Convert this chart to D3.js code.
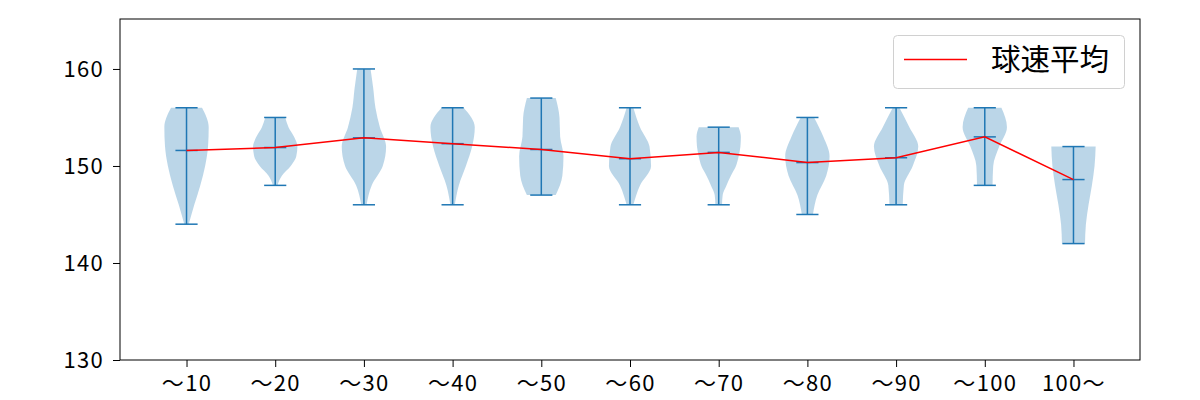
<!DOCTYPE html>
<html><head><meta charset="utf-8">
<script src="https://cdn.jsdelivr.net/npm/d3@7"></script>
<style>body{margin:0;background:#fff;}svg{display:block;}</style>
</head><body>
<svg id="c" width="1200" height="400"></svg>
<script>
const categories = ["～10","～20","～30","～40","～50","～60","～70","～80","～90","～100","100～"];
const maxVals  = [156,155,160,156,157,156,154,155,156,156,152];
const minVals  = [144,148,146,146,147,146,146,145,146,148,142];
const meanVals = [151.6,151.9,152.9,152.3,151.7,150.75,151.4,150.35,150.85,153.0,148.6];
// relative violin half-widths, sampled evenly from min to max (bottom -> top)
const densities = [
  [0.1,0.35,0.62,0.84,0.97,1.0,0.7],
  [0.1,0.3,0.7,0.95,1.0,0.85,0.6,0.45],
  [0.12,0.35,0.85,1.0,0.72,0.52,0.42,0.3],
  [0.1,0.28,0.6,0.88,1.0,0.5],
  [0.65,0.95,1.0,0.85,0.82,0.65],
  [0.15,0.45,0.95,0.88,0.45,0.15],
  [0.15,0.18,0.35,0.55,0.78,0.9,0.98,1.0,0.9],
  [0.25,0.45,0.85,1.0,0.72,0.3],
  [0.3,0.35,0.75,1.0,0.6,0.15],
  [0.35,0.38,0.65,1.0,0.75],
  [0.52,0.56,0.68,0.83,0.95,1.0]
];
const yTicks = [130,140,150,160];
const legendLabel = "球速平均";

const svg = d3.select("#c");
const L=120,R=1140,T=19,B=360;
const x = d3.scaleLinear().domain([0.25, categories.length+0.75]).range([L,R]);
const y = d3.scaleLinear().domain([130,165.15]).range([B,T]);
const unit = x(2)-x(1);
const halfW = 0.25*unit;
const capW = 0.125*unit;
const blue = "#1f77b4";
const font = "'Noto Sans CJK JP', 'DejaVu Sans', sans-serif";

categories.forEach((c,i)=>{
  const cx = x(i+1);
  const d = densities[i];
  const n = d.length;
  const pts = d.map((w,j)=>({v: minVals[i] + (maxVals[i]-minVals[i])*j/(n-1), w}));
  const area = d3.area()
    .y(p=>y(p.v))
    .x0(p=>cx - p.w*halfW)
    .x1(p=>cx + p.w*halfW)
    .curve(d3.curveMonotoneY);
  svg.append("path").attr("d", area(pts))
    .attr("fill", blue).attr("fill-opacity", 0.3).attr("stroke","none");
});

// vertical lines and caps
categories.forEach((c,i)=>{
  const cx = x(i+1);
  const g = svg.append("g").attr("stroke", blue).attr("stroke-width", 1.5);
  g.append("line").attr("x1",cx).attr("x2",cx).attr("y1",y(minVals[i])).attr("y2",y(maxVals[i]));
  [minVals[i],maxVals[i],meanVals[i]].forEach(v=>{
    g.append("line").attr("x1",cx-capW).attr("x2",cx+capW).attr("y1",y(v)).attr("y2",y(v));
  });
});

// mean line
svg.append("path")
  .datum(meanVals)
  .attr("d", d3.line().x((v,i)=>x(i+1)).y(v=>y(v)))
  .attr("fill","none").attr("stroke","red").attr("stroke-width",1.5);

// axes
const yAxis = d3.axisLeft(y).tickValues(yTicks).tickSize(7).tickPadding(9).tickFormat(d3.format("d"));
const gy = svg.append("g").attr("transform",`translate(${L},0)`).call(yAxis);
const xAxis = d3.axisBottom(x).tickValues(d3.range(1,categories.length+1)).tickSize(7).tickPadding(8).tickFormat((d)=>categories[d-1]);
const gx = svg.append("g").attr("transform",`translate(0,${B})`).call(xAxis);
[gx,gy].forEach(g=>{
  g.select(".domain").remove();
  g.selectAll("line").attr("stroke","#000").attr("stroke-width",1);
  g.selectAll("text").attr("font-family",font).attr("font-size",22).attr("letter-spacing","1.3px").attr("fill","#000");
});

svg.append("rect").attr("x",L).attr("y",T).attr("width",R-L).attr("height",B-T)
  .attr("fill","none").attr("stroke","#000").attr("stroke-width",1);

// legend
const lg = svg.append("g");
lg.append("rect").attr("x",893.5).attr("y",35.5).attr("width",231).attr("height",53).attr("rx",4)
  .attr("fill","#fff").attr("fill-opacity",0.8).attr("stroke","#d0d0d0").attr("stroke-width",1);
lg.append("line").attr("x1",904).attr("x2",967).attr("y1",59.5).attr("y2",59.5).attr("stroke","red").attr("stroke-width",1.5);
lg.append("text").attr("x",991).attr("y",70).text(legendLabel)
  .attr("font-family",font).attr("font-size",29.5).attr("fill","#000");
</script>
</body></html>
